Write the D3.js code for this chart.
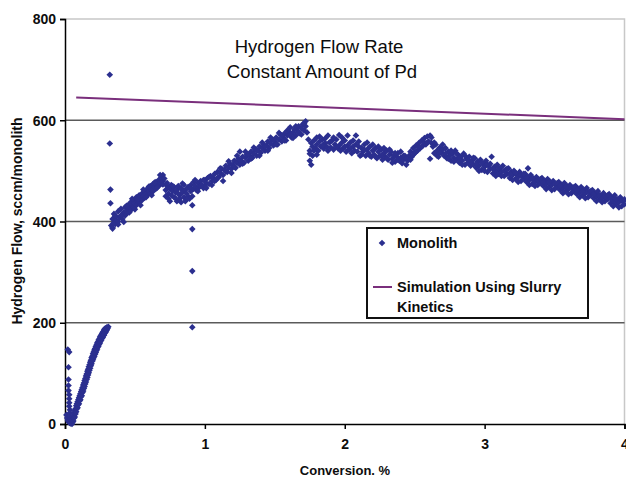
<!DOCTYPE html>
<html>
<head>
<meta charset="utf-8">
<script src="https://cdn.jsdelivr.net/npm/d3@7"></script>
<style>
  body { margin: 0; background: #fff; }
  svg { display: block; font-family: "Liberation Sans", Arial, sans-serif; }
</style>
</head>
<body>
<div id="chart"><svg></svg></div>
<script>
// ---- data ----
const xTicks = [0, 1, 2, 3, 4];
const yTicks = [0, 200, 400, 600, 800];
const gridValues = [200, 400, 600];

// near-vertical column + left arm at the very start
const startPts = [[0.01,18],[0.015,12],[0.02,8],[0.025,5],[0.03,3],[0.035,2],[0.04,1],[0.045,3],
  [0.02,147],[0.03,142],[0.025,112],[0.025,88],[0.025,76],[0.025,66],[0.03,58],[0.03,50],[0.03,42],
  [0.03,35],[0.035,28],[0.035,22],[0.04,15],[0.04,10]];

// startup ramp 0.05 -> 0.31
const rampPts = [[0.05,0],[0.05,8],[0.055,4],[0.055,14],[0.06,6],[0.06,16],[0.065,12],[0.065,22],[0.07,14],[0.07,26],
  [0.075,20],[0.075,30],[0.08,24],[0.08,36],[0.085,30],[0.085,40],[0.09,32],[0.09,44],[0.095,38],[0.095,48],
  [0.10,40],[0.10,52],[0.105,46],[0.105,56],[0.11,48],[0.11,60],[0.115,54],[0.115,64],[0.12,56],[0.12,68],
  [0.125,62],[0.125,72],[0.13,65],[0.13,77],[0.135,70],[0.135,81],[0.14,74],[0.14,86],[0.145,79],[0.145,90],
  [0.15,83],[0.15,95],[0.155,88],[0.155,99],[0.16,92],[0.16,104],[0.165,97],[0.165,108],[0.17,101],[0.17,113],
  [0.175,106],[0.175,117],[0.18,110],[0.18,122],[0.185,115],[0.185,126],[0.19,119],[0.19,131],[0.195,124],[0.195,134],
  [0.20,127],[0.20,139],[0.205,131],[0.205,142],[0.21,134],[0.21,146],[0.215,138],[0.215,149],[0.22,141],[0.22,153],
  [0.225,145],[0.225,156],[0.23,148],[0.23,160],[0.235,152],[0.235,162],[0.24,154],[0.24,166],[0.245,158],[0.245,168],
  [0.25,160],[0.25,172],[0.255,164],[0.255,174],[0.26,166],[0.26,176],[0.265,170],[0.265,179],[0.27,171],[0.27,181],
  [0.275,175],[0.275,183],[0.28,176],[0.28,186],[0.285,180],[0.285,188],[0.29,181],[0.29,189],[0.295,184],[0.30,186],
  [0.30,191],[0.305,189],[0.31,192]];

// stray points
const outlierPts = [[0.32,690],[0.32,554],[0.325,463],[0.325,436],[0.91,432],[0.91,385],[0.91,302],[0.91,191],[3.31,505]];

// main band 0.33 -> 0.92
const riseOnePts = [[0.33,392],[0.34,405],[0.34,388],[0.35,415],[0.35,398],[0.36,395],[0.36,410],[0.37,402],[0.38,420],[0.38,400],
  [0.39,408],[0.40,412],[0.40,425],[0.41,405],[0.42,418],[0.43,428],[0.43,412],[0.44,420],[0.45,432],[0.45,418],
  [0.46,425],[0.47,438],[0.47,422],[0.48,430],[0.49,442],[0.49,428],[0.50,436],[0.51,448],[0.51,432],[0.52,440],
  [0.53,452],[0.53,437],[0.54,445],[0.55,455],[0.55,442],[0.56,450],[0.57,460],[0.57,447],[0.58,455],[0.59,465],
  [0.59,452],[0.60,460],[0.61,470],[0.61,456],[0.62,463],[0.63,474],[0.63,460],[0.64,468],[0.65,478],[0.65,465],
  [0.66,472],[0.67,482],[0.67,470],[0.68,476],[0.69,488],[0.69,475],[0.70,492],[0.70,480],[0.71,485],
  [0.72,462],[0.72,450],[0.73,470],[0.74,455],[0.74,445],[0.75,465],[0.76,452],[0.76,472],[0.77,460],[0.78,448],
  [0.78,468],[0.79,458],[0.80,440],[0.80,462],[0.81,470],[0.82,452],[0.82,445],[0.83,465],[0.84,458],[0.84,475],
  [0.85,448],[0.86,462],[0.86,440],[0.87,455],[0.88,468],[0.88,450],[0.89,445],[0.90,460],[0.90,472],[0.91,450],
  [0.92,465],[0.92,478]];

// 0.93 -> 1.73, climb to the peak
const riseTwoPts = [[0.93,470],[0.94,462],[0.95,476],[0.96,468],[0.97,480],[0.98,472],[0.99,466],[1.00,482],[1.00,470],[1.01,476],
  [1.02,486],[1.03,474],[1.04,490],[1.05,480],[1.06,486],[1.07,494],[1.08,482],[1.09,498],[1.10,488],[1.11,496],
  [1.12,504],[1.13,492],[1.14,502],[1.15,510],[1.16,498],[1.17,506],[1.18,514],[1.19,504],[1.20,512],[1.21,520],
  [1.22,506],[1.23,516],[1.24,524],[1.25,538],[1.25,512],[1.26,520],[1.27,528],[1.28,516],[1.29,526],[1.30,532],
  [1.31,520],[1.32,530],[1.33,538],[1.34,526],[1.35,534],[1.36,542],[1.37,530],[1.38,540],[1.39,548],[1.40,536],
  [1.41,545],[1.42,552],[1.43,540],[1.44,550],[1.45,558],[1.46,545],[1.47,554],[1.48,562],[1.49,550],[1.50,558],
  [1.51,566],[1.52,552],[1.53,562],[1.54,572],[1.55,558],[1.56,566],[1.57,574],[1.58,560],[1.59,570],[1.60,578],
  [1.61,586],[1.62,566],[1.63,576],[1.64,582],[1.65,570],[1.66,580],[1.67,588],[1.68,574],[1.69,584],[1.70,592],
  [1.71,580],[1.72,598],[1.72,588],[1.73,576]];

// 1.74 -> 2.62, plateau, dip and second hump
const plateauPts = [[1.74,562],[1.75,540],[1.75,520],[1.76,512],[1.76,555],[1.77,548],[1.77,530],[1.78,560],[1.79,545],[1.80,552],
  [1.80,566],[1.81,540],[1.82,558],[1.83,548],[1.84,562],[1.85,544],[1.86,555],[1.87,548],[1.88,570],[1.88,540],
  [1.89,556],[1.90,546],[1.91,560],[1.92,542],[1.93,552],[1.94,562],[1.95,545],[1.96,571],[1.96,550],[1.97,540],
  [1.98,556],[1.99,545],[2.00,560],[2.01,538],[2.02,570],[2.02,550],[2.03,542],[2.04,556],[2.05,535],[2.06,548],
  [2.07,540],[2.08,570],[2.08,552],[2.09,538],[2.10,548],[2.11,530],[2.12,545],[2.13,538],[2.14,552],[2.15,530],
  [2.16,542],[2.17,535],[2.18,548],[2.19,528],[2.20,540],[2.21,532],[2.22,545],[2.23,525],[2.24,538],[2.25,530],
  [2.26,542],[2.27,522],[2.28,535],[2.29,528],[2.30,540],[2.31,522],[2.32,532],[2.33,538],[2.34,524],[2.35,530],
  [2.36,518],[2.37,528],[2.38,535],[2.39,520],[2.40,526],[2.41,515],[2.42,522],[2.43,530],[2.44,512],[2.45,520],
  [2.46,530],[2.47,538],[2.48,528],[2.49,545],[2.50,535],[2.51,550],[2.52,540],[2.53,555],[2.54,545],[2.55,560],
  [2.56,550],[2.57,565],[2.58,552],[2.59,568],[2.60,558],[2.61,570],[2.62,555],[2.61,524]];

// 2.63 -> 4.00, slow decline
const declinePts = [[2.63,548],[2.64,535],[2.65,552],[2.66,540],[2.67,528],[2.68,546],[2.69,536],[2.70,542],[2.71,530],[2.72,545],
  [2.73,525],[2.74,538],[2.75,530],[2.76,520],[2.77,535],[2.78,526],[2.79,540],[2.80,522],[2.81,532],[2.82,516],
  [2.83,528],[2.84,520],[2.85,534],[2.86,512],[2.87,524],[2.88,516],[2.89,528],[2.90,510],[2.91,520],[2.92,512],
  [2.93,525],[2.94,506],[2.95,518],[2.96,510],[2.97,522],[2.98,502],[2.99,514],[3.00,508],[3.01,520],[3.02,498],
  [3.03,510],[3.04,504],[3.05,528],[3.06,495],[3.07,508],[3.08,500],[3.09,512],[3.10,494],[3.11,504],[3.12,498],
  [3.13,510],[3.14,490],[3.15,502],[3.16,494],[3.17,505],[3.18,486],[3.19,498],[3.20,492],[3.21,500],[3.22,484],
  [3.23,494],[3.24,488],[3.25,498],[3.26,480],[3.27,490],[3.28,484],[3.29,494],[3.30,478],[3.31,488],[3.32,482],
  [3.33,492],[3.34,474],[3.35,485],[3.36,478],[3.37,488],[3.38,472],[3.39,482],[3.40,476],[3.41,486],[3.42,470],
  [3.43,480],[3.44,474],[3.45,484],[3.46,468],[3.47,478],[3.48,472],[3.49,480],[3.50,464],[3.51,474],[3.52,468],
  [3.53,478],[3.54,462],[3.55,472],[3.56,466],[3.57,476],[3.58,460],[3.59,470],[3.60,464],[3.61,472],[3.62,456],
  [3.63,466],[3.64,460],[3.65,470],[3.66,454],[3.67,464],[3.68,458],[3.69,468],[3.70,452],[3.71,462],[3.72,456],
  [3.73,466],[3.74,448],[3.75,458],[3.76,452],[3.77,462],[3.78,446],[3.79,456],[3.80,450],[3.81,460],[3.82,444],
  [3.83,452],[3.84,446],[3.85,456],[3.86,440],[3.87,450],[3.88,444],[3.89,454],[3.90,436],[3.91,448],[3.92,440],
  [3.93,452],[3.94,434],[3.95,444],[3.96,438],[3.97,448],[3.98,430],[3.99,440],[4.00,434]];

// looser points scattered around the band
const strayBandPts = [[0.34,386],[0.36,412],[0.38,394],[0.40,411],[0.42,399],[0.44,431],[0.46,418],[0.48,445],[0.50,424],[0.52,444],
  [0.54,432],[0.56,463],[0.58,448],[0.60,469],[0.62,452],[0.64,477],[0.66,467],[0.68,492],[0.70,473],[0.73,476],
  [0.75,440],[0.77,470],[0.79,446],[0.81,455],[0.83,438],[0.85,472],[0.87,444],[0.89,466],[0.93,482],[0.95,460],
  [0.97,470],[0.99,482],[1.01,466],[1.03,488],[1.05,472],[1.07,480],[1.09,486],[1.11,505],[1.13,480],[1.15,499],
  [1.17,519],[1.19,496],[1.21,508],[1.23,530],[1.25,521],[1.27,514],[1.29,538],[1.31,532],[1.33,524],[1.35,546],
  [1.37,541],[1.39,530],[1.41,556],[1.43,548],[1.45,540],[1.47,566],[1.49,561],[1.51,552],[1.53,575],[1.55,570],
  [1.57,560],[1.59,580],[1.61,572],[1.63,565],[1.65,588],[1.67,576],[1.69,572],[1.71,594],[1.75,534],[1.78,540],
  [1.80,532],[1.82,568],[1.84,550],[1.86,564],[1.90,558],[1.92,566],[1.94,548],[1.98,566],[2.00,548],[2.04,544],
  [2.06,560],[2.10,558],[2.12,532],[2.14,542],[2.16,556],[2.18,530],[2.20,552],[2.22,528],[2.24,548],[2.26,530],
  [2.28,545],[2.30,525],[2.32,542],[2.34,516],[2.36,535],[2.38,522],[2.40,538],[2.42,530],[2.44,524],[2.47,522],
  [2.49,532],[2.51,538],[2.53,546],[2.55,548],[2.57,556],[2.59,556],[2.62,566],[2.64,556],[2.66,530],[2.68,536],
  [2.70,552],[2.72,534],[2.74,524],[2.76,540],[2.78,518],[2.80,534],[2.82,526],[2.84,512],[2.86,530],[2.88,522],
  [2.90,518],[2.92,526],[2.94,514],[2.96,500],[2.98,516],[3.00,500],[3.02,512],[3.04,514],[3.06,504],[3.08,490],
  [3.10,506],[3.12,490],[3.14,500],[3.16,504],[3.18,494],[3.20,482],[3.22,496],[3.24,478],[3.26,492],[3.28,494],
  [3.30,486],[3.32,472],[3.34,484],[3.36,470],[3.38,482],[3.40,484],[3.42,478],[3.44,464],[3.46,478],[3.48,462],
  [3.50,474],[3.52,476],[3.54,470],[3.56,456],[3.58,468],[3.60,454],[3.62,466],[3.64,468],[3.66,462],[3.68,448],
  [3.70,460],[3.72,446],[3.74,458],[3.76,460],[3.78,454],[3.80,440],[3.82,452],[3.84,438],[3.86,450],[3.88,452],
  [3.90,446],[3.92,430],[3.94,444],[3.96,428],[3.98,442],[4.00,444]];

// slurry-kinetics simulation, a straight falling line
const simulationPts = [[0.08,645],[4.0,602]];

const monolithPts = [].concat(startPts, rampPts, outlierPts, riseOnePts, riseTwoPts, plateauPts, declinePts, strayBandPts);

// ---- layout ----
const W = 626, H = 478;
const plot = { left: 65, right: 624.5, top: 19, bottom: 424 };
const markerColor = '#2b2f8f';
const lineColor = '#7a2f7c';
const inkColor = '#0d0d0d';

const svg = d3.select('#chart svg').attr('width', W).attr('height', H);

const x = d3.scaleLinear().domain([0, 4]).range([plot.left, plot.right]);
const y = d3.scaleLinear().domain([0, 800]).range([plot.bottom, plot.top]);

// light frame on top/right
svg.append('path')
    .attr('d', `M${plot.left},${plot.top}H${plot.right}V${plot.bottom}`)
    .attr('fill', 'none')
    .attr('stroke', '#c8c8c8')
    .attr('stroke-width', 1.5);

// horizontal gridlines
svg.selectAll('line.grid')
    .data(gridValues)
    .enter().append('line')
    .attr('class', 'grid')
    .attr('x1', plot.left).attr('x2', plot.right)
    .attr('y1', d => y(d)).attr('y2', d => y(d))
    .attr('stroke', '#5a5a5a')
    .attr('stroke-width', 1.6);

// axes
const yAxis = d3.axisLeft(y).tickValues(yTicks).tickSize(5).tickPadding(4);
const xAxis = d3.axisBottom(x).tickValues(xTicks).tickSize(5).tickPadding(10).tickFormat(d3.format('d'));

const gy = svg.append('g').attr('transform', `translate(${plot.left},0)`).call(yAxis);
const gx = svg.append('g').attr('transform', `translate(0,${plot.bottom})`).call(xAxis);

[gx, gy].forEach(g => {
    g.select('.domain').attr('stroke', '#000').attr('stroke-width', 1.5);
    g.selectAll('.tick line').attr('stroke', '#000').attr('stroke-width', 1.5);
    g.selectAll('.tick text')
        .attr('fill', inkColor)
        .style('font-family', '"Liberation Sans", Arial, sans-serif')
        .style('font-size', '14px')
        .style('font-weight', 'bold');
});
gy.selectAll('.tick text').attr('dy', '0.35em');

// simulation line
svg.append('path')
    .datum(simulationPts)
    .attr('fill', 'none')
    .attr('stroke', lineColor)
    .attr('stroke-width', 2)
    .attr('d', d3.line().x(d => x(d[0])).y(d => y(d[1])));

// monolith diamonds
const diamond = 'M0,-3.3L3.3,0L0,3.3L-3.3,0Z';
svg.append('g')
    .selectAll('path')
    .data(monolithPts)
    .enter().append('path')
    .attr('d', diamond)
    .attr('transform', d => `translate(${x(d[0])},${y(d[1])})`)
    .attr('fill', markerColor);

// title
const title = svg.append('text')
    .attr('text-anchor', 'middle')
    .attr('fill', inkColor)
    .style('font-size', '18.5px');
title.append('tspan').attr('x', 319).attr('y', 53).text('Hydrogen Flow Rate');
title.append('tspan').attr('x', 322).attr('y', 78).text('Constant Amount of Pd');

// axis titles
svg.append('text')
    .attr('transform', 'translate(22,221) rotate(-90)')
    .attr('text-anchor', 'middle')
    .attr('fill', inkColor)
    .style('font-size', '14px')
    .style('font-weight', 'bold')
    .text('Hydrogen Flow, sccm/monolith');

svg.append('text')
    .attr('x', 345).attr('y', 475)
    .attr('text-anchor', 'middle')
    .attr('fill', inkColor)
    .style('font-size', '13px')
    .style('font-weight', 'bold')
    .text('Conversion. %');

// legend
const legend = svg.append('g');
legend.append('rect')
    .attr('x', 367).attr('y', 228)
    .attr('width', 221).attr('height', 90)
    .attr('fill', '#fff')
    .attr('stroke', '#111')
    .attr('stroke-width', 2);
legend.append('path')
    .attr('d', diamond)
    .attr('transform', 'translate(382,243)')
    .attr('fill', markerColor);
legend.append('line')
    .attr('x1', 373).attr('x2', 392)
    .attr('y1', 287).attr('y2', 287)
    .attr('stroke', lineColor)
    .attr('stroke-width', 2);
const legText = legend.append('text')
    .attr('fill', inkColor)
    .style('font-size', '14.5px')
    .style('font-weight', 'bold');
legText.append('tspan').attr('x', 397).attr('y', 248).text('Monolith');
legText.append('tspan').attr('x', 397).attr('y', 292).text('Simulation Using Slurry');
legText.append('tspan').attr('x', 397).attr('y', 312).text('Kinetics');
</script>
</body>
</html>
